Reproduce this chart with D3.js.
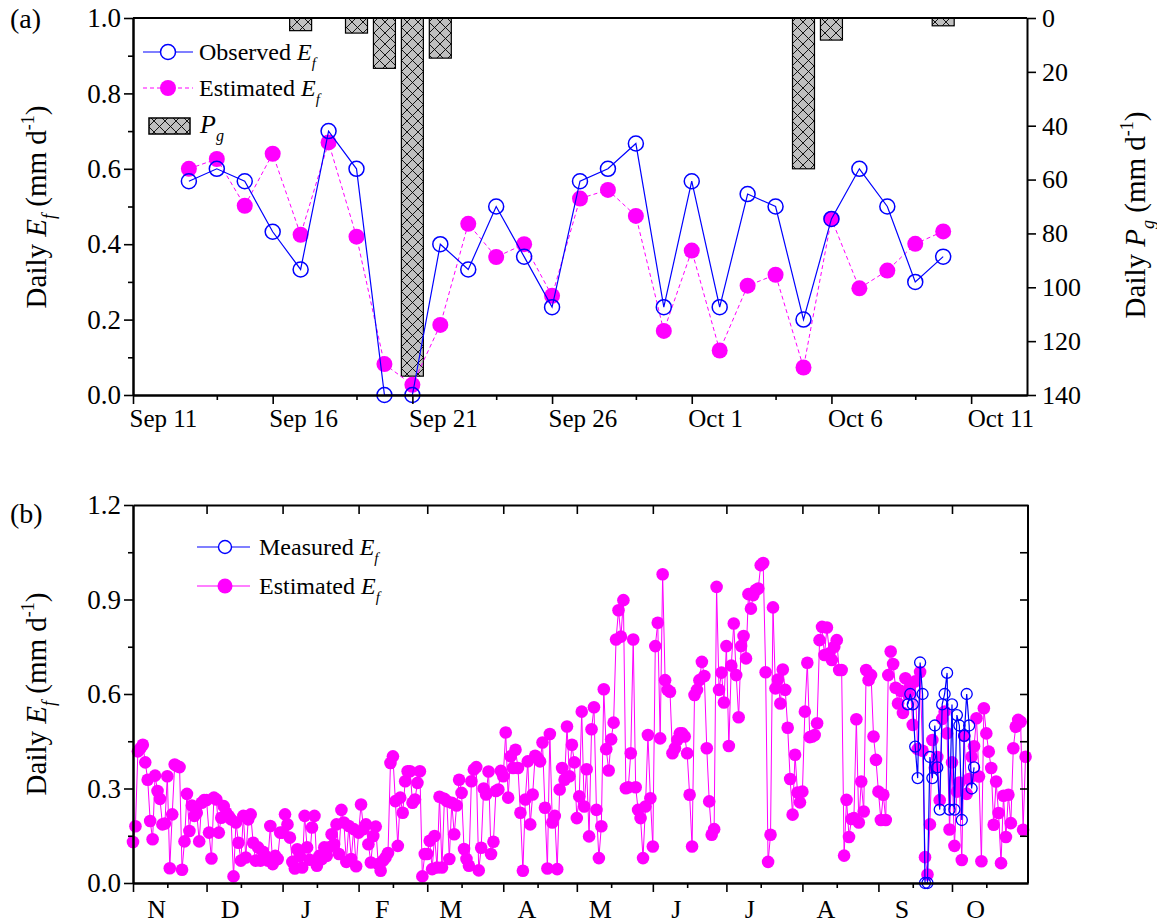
<!DOCTYPE html>
<html>
<head>
<meta charset="utf-8">
<script src="https://d3js.org/d3.v7.min.js"></script>
<style>
body { margin: 0; background: #fff; }
svg text { font-family: "Liberation Serif", "DejaVu Serif", Tinos, "Times New Roman", Times, serif; fill: #000; }
</style>
</head>
<body>
<div class="chart"></div>
<script>
function utc(y, m, d) { return new Date(Date.UTC(y, m, d)); }

// ---------- panel (a) data: Sep 13 - Oct 10 ----------
var obsStart = utc(2011, 8, 13);
var observedEf = [0.567, 0.600, 0.567, 0.433, 0.333, 0.700, 0.600, 0.000, 0.000, 0.400,
    0.333, 0.500, 0.367, 0.233, 0.567, 0.600, 0.667, 0.233, 0.567, 0.233,
    0.533, 0.500, 0.200, 0.467, 0.600, 0.500, 0.300, 0.367];
var estimatedEf = [0.600, 0.626, 0.502, 0.640, 0.425, 0.670, 0.420, 0.082, 0.027, 0.186,
    0.454, 0.366, 0.400, 0.263, 0.521, 0.544, 0.475, 0.170, 0.383, 0.118,
    0.290, 0.319, 0.073, 0.467, 0.283, 0.330, 0.401, 0.434];
var rainDates = [utc(2011, 8, 17), utc(2011, 8, 19), utc(2011, 8, 20), utc(2011, 8, 21),
    utc(2011, 8, 22), utc(2011, 9, 5), utc(2011, 9, 6), utc(2011, 9, 10)];
var rainPg = [4.7, 5.6, 18.7, 133, 14.9, 56, 8.2, 2.9];
var topMajor = [utc(2011, 8, 11), utc(2011, 8, 16), utc(2011, 8, 21), utc(2011, 8, 26),
    utc(2011, 9, 1), utc(2011, 9, 6), utc(2011, 9, 11)];
var topMinor = [utc(2011, 8, 14), utc(2011, 8, 19), utc(2011, 8, 24), utc(2011, 8, 29),
    utc(2011, 9, 4), utc(2011, 9, 9)];

// ---------- panel (b) data: daily estimated Ef, Nov 1 2010 - Oct 31 2011 ----------
var novEf = [0.13, 0.18, 0.418, 0.428, 0.439, 0.383, 0.328, 0.197, 0.139, 0.341, 0.292, 0.267, 0.186, 0.189, 0.339,
    0.047, 0.218, 0.376, 0.371, 0.368, 0.042, 0.132, 0.283, 0.165, 0.246, 0.213, 0.223, 0.132, 0.255, 0.263];
var decEf = [0.263, 0.160, 0.078, 0.271, 0.265, 0.160, 0.207, 0.244, 0.223, 0.213, 0.202, 0.021, 0.192, 0.128, 0.071,
    0.213, 0.081, 0.202, 0.218, 0.128, 0.071, 0.113, 0.071, 0.099, 0.086, 0.071, 0.181, 0.060, 0.086, 0.076, 0.160];
var janEf = [0.160, 0.218, 0.186, 0.144, 0.067, 0.046, 0.107, 0.086, 0.049, 0.213, 0.113, 0.074, 0.176, 0.213, 0.055,
    0.086, 0.076, 0.113, 0.086, 0.113, 0.155, 0.123, 0.186, 0.092, 0.232, 0.192, 0.067, 0.181, 0.076, 0.171, 0.053];
var febEf = [0.160, 0.249, 0.171, 0.186, 0.123, 0.065, 0.149, 0.179, 0.060, 0.039, 0.071, 0.081, 0.095, 0.381,
    0.402, 0.260, 0.118, 0.271, 0.223, 0.323, 0.355, 0.355, 0.255, 0.265, 0.318, 0.355, 0.021, 0.092];
var marEf = [0.092, 0.134, 0.044, 0.149, 0.049, 0.274, 0.049, 0.267, 0.260, 0.076, 0.255, 0.155, 0.246, 0.328, 0.286,
    0.108, 0.076, 0.055, 0.323, 0.360, 0.368, 0.040, 0.112, 0.300, 0.281, 0.354, 0.092, 0.131, 0.292, 0.297, 0.356];
var aprEf = [0.339, 0.478, 0.271, 0.402, 0.365, 0.423, 0.365, 0.223, 0.039, 0.265, 0.386, 0.186, 0.281, 0.404, 0.397,
    0.386, 0.446, 0.239, 0.046, 0.473, 0.192, 0.213, 0.044, 0.297, 0.365, 0.328, 0.497, 0.339, 0.439, 0.383];
var mayEf = [0.206, 0.275, 0.544, 0.243, 0.361, 0.148, 0.488, 0.558, 0.232, 0.079, 0.180, 0.615, 0.425, 0.357, 0.456,
    0.509, 0.773, 0.866, 0.782, 0.898, 0.301, 0.304, 0.412, 0.773, 0.304, 0.232, 0.206, 0.079, 0.243, 0.470, 0.269];
var junEf = [0.116, 0.752, 0.826, 0.459, 0.980, 0.644, 0.613, 0.607, 0.412, 0.428, 0.454, 0.475, 0.475, 0.465, 0.412,
    0.280, 0.116, 0.597, 0.613, 0.644, 0.702, 0.657, 0.428, 0.259, 0.153, 0.171, 0.940, 0.613, 0.668, 0.573];
var julEf = [0.752, 0.435, 0.690, 0.824, 0.660, 0.526, 0.752, 0.784, 0.713, 0.917, 0.871, 0.914, 0.930, 0.935, 1.009,
    1.016, 0.669, 0.067, 0.153, 0.875, 0.618, 0.646, 0.570, 0.678, 0.613, 0.493, 0.330, 0.217, 0.407, 0.287, 0.256];
var augEf = [0.290, 0.544, 0.699, 0.463, 0.465, 0.470, 0.507, 0.771, 0.813, 0.724, 0.811, 0.729, 0.708, 0.750, 0.771,
    0.676, 0.676, 0.087, 0.264, 0.146, 0.203, 0.206, 0.520, 0.192, 0.322, 0.227, 0.676, 0.644, 0.660, 0.465, 0.391];
var sepEarlyEf = [0.290, 0.200, 0.280, 0.200, 0.660, 0.735, 0.695, 0.620, 0.570, 0.610, 0.540, 0.650];
var octLateEf = [0.523, 0.338, 0.069, 0.555, 0.475, 0.417, 0.365, 0.185, 0.322, 0.222, 0.063, 0.277, 0.146, 0.280,
    0.190, 0.428, 0.496, 0.518, 0.512, 0.169, 0.401];
var monthLabels = ["N", "D", "J", "F", "M", "A", "M", "J", "J", "A", "S", "O"];

var yearStart = utc(2010, 10, 1), yearEnd = utc(2011, 10, 1);
var yearEf = novEf.concat(decEf, janEf, febEf, marEf, aprEf, mayEf, junEf, julEf, augEf,
    sepEarlyEf, estimatedEf, octLateEf);

function daily(start, values) {
    return values.map(function (v, i) { return { date: d3.utcDay.offset(start, i), v: v }; });
}
var obsData = daily(obsStart, observedEf);
var estData = daily(obsStart, estimatedEf);
var yearData = daily(yearStart, yearEf);
var rainData = rainDates.map(function (d, i) { return { date: d, p: rainPg[i] }; });

var blue = "#0000ff", magenta = "#ff00ff";
var serif = '"Liberation Serif", "DejaVu Serif", Tinos, "Times New Roman", Times, serif';

var svg = d3.select(".chart").append("svg")
    .attr("width", 1157).attr("height", 923)
    .attr("font-family", serif);

var defs = svg.append("defs");
var pat = defs.append("pattern").attr("id", "hatch")
    .attr("patternUnits", "userSpaceOnUse").attr("width", 11).attr("height", 11);
pat.append("rect").attr("width", 11).attr("height", 11).attr("fill", "#c0c0c0");
pat.append("path").attr("d", "M0,0L11,11M11,0L0,11").attr("stroke", "#000").attr("stroke-width", 0.9);

// rich text with italic / sub / sup parts
function rich(g, x, y, parts, size, rotate, anchor) {
    var t = g.append("text").attr("x", x).attr("y", y)
        .style("font-size", size + "px").style("font-family", serif)
        .attr("text-anchor", anchor || "start");
    if (rotate) t.attr("transform", "rotate(-90," + x + "," + y + ")");
    var shift = 0;
    parts.forEach(function (p) {
        var s = p[1] || "";
        var want = s.indexOf("sub") >= 0 ? size * 0.32 : (s.indexOf("sup") >= 0 ? -size * 0.4 : 0);
        var ts = t.append("tspan").text(p[0]).attr("dy", want - shift);
        shift = want;
        if (s.indexOf("i") >= 0) ts.style("font-style", "italic");
        if (want !== 0) ts.style("font-size", (size * 0.62) + "px");
    });
    return t;
}

function styleAxis(g, fontSize) {
    g.attr("font-family", null);
    g.select(".domain").attr("stroke-width", 2);
    g.selectAll(".tick line").attr("stroke-width", 1.6);
    g.selectAll(".tick text").style("font-size", fontSize + "px")
        .style("font-family", serif).attr("fill", "#000");
}

// ================= panel (a) =================
var L = 133, R = 1027, aTop = 18, aBot = 395;
var xA = d3.scaleUtc().domain([utc(2011, 8, 11), utc(2011, 9, 13)]).range([L, R]);
var yA = d3.scaleLinear().domain([0, 1]).range([aBot, aTop]);
var yP = d3.scaleLinear().domain([0, 140]).range([aTop, aBot]);

var gA = svg.append("g");

// precipitation bars
var barW = 22;
gA.selectAll("rect.bar").data(rainData).enter().append("rect")
    .attr("class", "bar")
    .attr("x", function (d) { return xA(d.date) - barW / 2; })
    .attr("y", yP(0))
    .attr("width", barW)
    .attr("height", function (d) { return yP(d.p) - yP(0); })
    .attr("fill", "url(#hatch)").attr("stroke", "#000").attr("stroke-width", 1.2);

// estimated (dashed) then observed
gA.append("path").datum(estData)
    .attr("d", d3.line().x(function (d) { return xA(d.date); }).y(function (d) { return yA(d.v); }))
    .attr("fill", "none").attr("stroke", magenta).attr("stroke-width", 1).attr("stroke-dasharray", "4,3");
gA.selectAll("circle.est").data(estData).enter().append("circle")
    .attr("class", "est")
    .attr("cx", function (d) { return xA(d.date); })
    .attr("cy", function (d) { return yA(d.v); })
    .attr("r", 8).attr("fill", magenta);

gA.append("path").datum(obsData)
    .attr("d", d3.line().x(function (d) { return xA(d.date); }).y(function (d) { return yA(d.v); }))
    .attr("fill", "none").attr("stroke", blue).attr("stroke-width", 1.2);
gA.selectAll("circle.obs").data(obsData).enter().append("circle")
    .attr("class", "obs")
    .attr("cx", function (d) { return xA(d.date); })
    .attr("cy", function (d) { return yA(d.v); })
    .attr("r", 7.5).attr("fill", "none").attr("stroke", blue).attr("stroke-width", 1.5);

// axes
var axL = gA.append("g").attr("transform", "translate(" + L + ",0)")
    .call(d3.axisLeft(yA).tickValues([0, 0.2, 0.4, 0.6, 0.8, 1.0]).tickFormat(d3.format(".1f"))
        .tickSize(9).tickSizeOuter(0).tickPadding(3));
styleAxis(axL, 27);
var axLm = gA.append("g").attr("transform", "translate(" + L + ",0)")
    .call(d3.axisLeft(yA).tickValues([0.1, 0.3, 0.5, 0.7, 0.9]).tickFormat("").tickSize(5).tickSizeOuter(0));
styleAxis(axLm, 27);

var axR = gA.append("g").attr("transform", "translate(" + R + ",0)")
    .call(d3.axisRight(yP).tickValues(d3.range(0, 141, 20)).tickSize(9).tickSizeOuter(0).tickPadding(6));
styleAxis(axR, 26);

// date labels sit just right of their tick, as in the original
var axB = gA.append("g").attr("transform", "translate(0," + aBot + ")")
    .call(d3.axisBottom(xA).tickValues(topMajor).tickFormat(d3.utcFormat("%b %-d"))
        .tickSize(9).tickSizeOuter(0).tickPadding(5));
styleAxis(axB, 25);
axB.selectAll(".tick text").attr("text-anchor", "start").attr("x", -4);
var axBm = gA.append("g").attr("transform", "translate(0," + aBot + ")")
    .call(d3.axisBottom(xA).tickValues(topMinor).tickFormat("").tickSize(5).tickSizeOuter(0));
styleAxis(axBm, 25);

gA.append("line").attr("x1", L).attr("x2", R).attr("y1", aTop).attr("y2", aTop)
    .attr("stroke", "#000").attr("stroke-width", 2);

// legend (a)
var lg = gA.append("g");
lg.append("line").attr("x1", 143).attr("x2", 193).attr("y1", 52).attr("y2", 52)
    .attr("stroke", blue).attr("stroke-width", 1.2);
lg.append("circle").attr("cx", 168).attr("cy", 52).attr("r", 7.5)
    .attr("fill", "#fff").attr("stroke", blue).attr("stroke-width", 1.5);
rich(lg, 199, 60, [["Observed "], ["E", "i"], ["f", "isub"]], 24);
lg.append("line").attr("x1", 143).attr("x2", 193).attr("y1", 88).attr("y2", 88)
    .attr("stroke", magenta).attr("stroke-width", 1).attr("stroke-dasharray", "4,3");
lg.append("circle").attr("cx", 168).attr("cy", 88).attr("r", 8).attr("fill", magenta);
rich(lg, 199, 96, [["Estimated "], ["E", "i"], ["f", "isub"]], 24);
lg.append("rect").attr("x", 149).attr("y", 118).attr("width", 41).attr("height", 16)
    .attr("fill", "url(#hatch)").attr("stroke", "#000").attr("stroke-width", 1.5);
rich(lg, 200, 133, [["P", "i"], ["g", "isub"]], 26);

rich(svg, 10, 28, [["(a)"]], 28);
rich(svg, 46, 207, [["Daily "], ["E", "i"], ["f", "isub"], [" (mm d"], ["-1", "sup"], [")"]], 29, true, "middle");
rich(svg, 1145, 215, [["Daily "], ["P", "i"], ["g", "isub"], [" (mm d"], ["-1", "sup"], [")"]], 29, true, "middle");

// ================= panel (b) =================
var bTop = 505, bBot = 883, R2 = 1028;
var xB = d3.scaleUtc().domain([yearStart, yearEnd]).range([L, R2]);
var yB = d3.scaleLinear().domain([0, 1.2]).range([bBot, bTop]);
var gB = svg.append("g");

var months = d3.utcMonth.range(yearStart, yearEnd);

gB.append("path").datum(yearData)
    .attr("d", d3.line().x(function (d) { return xB(d.date); }).y(function (d) { return yB(d.v); }))
    .attr("fill", "none").attr("stroke", magenta).attr("stroke-width", 1);
gB.selectAll("circle.est").data(yearData).enter().append("circle")
    .attr("class", "est")
    .attr("cx", function (d) { return xB(d.date); })
    .attr("cy", function (d) { return yB(d.v); })
    .attr("r", 6.3).attr("fill", magenta);

gB.append("path").datum(obsData)
    .attr("d", d3.line().x(function (d) { return xB(d.date); }).y(function (d) { return yB(d.v); }))
    .attr("fill", "none").attr("stroke", blue).attr("stroke-width", 1.2);
gB.selectAll("circle.obs").data(obsData).enter().append("circle")
    .attr("class", "obs")
    .attr("cx", function (d) { return xB(d.date); })
    .attr("cy", function (d) { return yB(d.v); })
    .attr("r", 5.5).attr("fill", "none").attr("stroke", blue).attr("stroke-width", 1.3);

var bL = gB.append("g").attr("transform", "translate(" + L + ",0)")
    .call(d3.axisLeft(yB).tickValues([0, 0.3, 0.6, 0.9, 1.2]).tickFormat(d3.format(".1f"))
        .tickSize(9).tickSizeOuter(0).tickPadding(3));
styleAxis(bL, 27);
var bLm = gB.append("g").attr("transform", "translate(" + L + ",0)")
    .call(d3.axisLeft(yB).tickValues([0.15, 0.45, 0.75, 1.05]).tickFormat("").tickSize(5).tickSizeOuter(0));
styleAxis(bLm, 27);

var bR = gB.append("g").attr("transform", "translate(" + R2 + ",0)")
    .call(d3.axisLeft(yB).tickValues([0.15, 0.3, 0.45, 0.6, 0.75, 0.9, 1.05]).tickFormat("")
        .tickSize(8).tickSizeOuter(0));
styleAxis(bR, 26);
bR.select(".domain").attr("d", "M0," + bBot + "V" + bTop);

var bT = gB.append("g").attr("transform", "translate(0," + bTop + ")")
    .call(d3.axisBottom(xB).tickValues(months.slice(1)).tickFormat("").tickSize(9).tickSizeOuter(0));
styleAxis(bT, 25);

var bB = gB.append("g").attr("transform", "translate(0," + bBot + ")")
    .call(d3.axisBottom(xB).tickValues(months).tickFormat("").tickSize(9).tickSizeOuter(0));
styleAxis(bB, 25);
var bBm = gB.append("g").attr("transform", "translate(0," + bBot + ")")
    .call(d3.axisBottom(xB).tickValues(months.map(function (m) { return d3.utcDay.offset(m, 14); }))
        .tickFormat("").tickSize(5).tickSizeOuter(0));
styleAxis(bBm, 25);

gB.selectAll("text.month").data(months).enter().append("text")
    .attr("class", "month")
    .attr("x", function (m) { return xB(new Date(+m + 9.6 * 864e5)); })
    .attr("y", 918)
    .attr("text-anchor", "middle")
    .style("font-size", "26px").style("font-family", serif)
    .text(function (m, i) { return monthLabels[i]; });

// legend (b)
var lb = gB.append("g");
lb.append("line").attr("x1", 197).attr("x2", 250).attr("y1", 547).attr("y2", 547)
    .attr("stroke", blue).attr("stroke-width", 1.2);
lb.append("circle").attr("cx", 225).attr("cy", 547).attr("r", 6.5)
    .attr("fill", "#fff").attr("stroke", blue).attr("stroke-width", 1.4);
rich(lb, 259, 555, [["Measured "], ["E", "i"], ["f", "isub"]], 24);
lb.append("line").attr("x1", 197).attr("x2", 250).attr("y1", 586).attr("y2", 586)
    .attr("stroke", magenta).attr("stroke-width", 1.2);
lb.append("circle").attr("cx", 225).attr("cy", 586).attr("r", 7.5).attr("fill", magenta);
rich(lb, 259, 594, [["Estimated "], ["E", "i"], ["f", "isub"]], 24);

rich(svg, 10, 523, [["(b)"]], 28);
rich(svg, 46, 694, [["Daily "], ["E", "i"], ["f", "isub"], [" (mm d"], ["-1", "sup"], [")"]], 29, true, "middle");
</script>
</body>
</html>
